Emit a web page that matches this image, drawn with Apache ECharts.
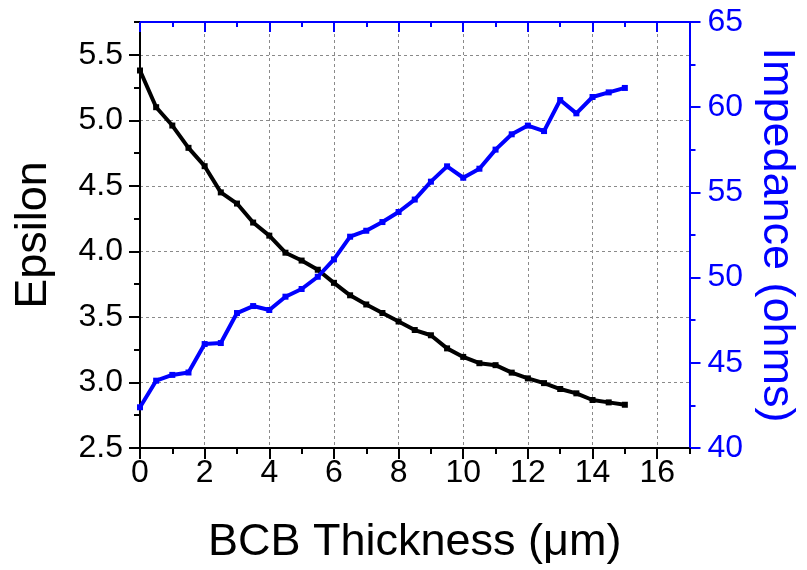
<!DOCTYPE html>
<html>
<head>
<meta charset="utf-8">
<script src="https://cdn.jsdelivr.net/npm/echarts@6/dist/echarts.min.js"></script>
<style>
  html, body { margin: 0; padding: 0; background: #fff; }
  #chart { width: 807px; height: 570px; }
</style>
</head>
<body>
<div id="chart"></div>
<script>
// BCB thickness sweep (µm)
const thickness = [0, 0.5, 1, 1.5, 2, 2.5, 3, 3.5, 4, 4.5, 5, 5.5, 6, 6.5, 7, 7.5,
  8, 8.5, 9, 9.5, 10, 10.5, 11, 11.5, 12, 12.5, 13, 13.5, 14, 14.5, 15];

// Effective permittivity
const epsilon = [5.38, 5.10, 4.96, 4.79, 4.65, 4.45, 4.365, 4.22, 4.12, 3.99, 3.93,
  3.86, 3.76, 3.665, 3.595, 3.53, 3.465, 3.40, 3.36, 3.26, 3.195, 3.147, 3.132,
  3.075, 3.031, 2.995, 2.95, 2.917, 2.866, 2.848, 2.83];

// Characteristic impedance (ohms)
const impedance = [42.39, 43.95, 44.29, 44.43, 46.10, 46.16, 47.92, 48.33, 48.10,
  48.88, 49.33, 50.05, 51.07, 52.40, 52.75, 53.26, 53.85, 54.58, 55.63, 56.53,
  55.86, 56.39, 57.51, 58.41, 58.92, 58.60, 60.42, 59.64, 60.60, 60.87, 61.13];

// Axis ranges and tick steps
const xRange = [0, 17], xStep = 2, xMinorStep = 1;
const epsRange = [2.5, 5.75], epsStep = 0.5, epsMinorStep = 0.25;
const impRange = [40, 65], impStep = 5;

const FONT = 'Liberation Sans';
const BLUE = '#0000ff';
const TICK_FONT = 32;
const TITLE_FONT = 45;
const gridLine = { show: true, lineStyle: { color: '#8a8a8a', width: 1, type: [3, 3] } };

const chart = echarts.init(document.getElementById('chart'), null, { renderer: 'canvas' });

const hidden = { show: false };

chart.setOption({
  animation: false,
  backgroundColor: '#fff',
  grid: { left: 140, right: 113, top: 22, bottom: 122, containLabel: false },
  xAxis: [
    {
      type: 'value', position: 'bottom', min: xRange[0], max: xRange[1], interval: xStep,
      name: 'BCB Thickness (μm)', nameLocation: 'middle', nameGap: 72,
      nameTextStyle: { fontFamily: FONT, fontSize: TITLE_FONT, color: '#000' },
      axisLine: { show: true, onZero: false, lineStyle: { color: '#000', width: 2 } },
      axisTick: { show: true, inside: false, length: 11, lineStyle: { color: '#000', width: 2 } },
      axisLabel: { show: true, margin: 9, fontFamily: FONT, fontSize: TICK_FONT, color: '#000', showMaxLabel: false },
      splitLine: gridLine
    },
    {
      type: 'value', position: 'bottom', min: xRange[0], max: xRange[1], interval: xMinorStep,
      axisLine: { show: false, onZero: false },
      axisTick: { show: true, inside: false, length: 6, lineStyle: { color: '#000', width: 2 } },
      axisLabel: hidden, splitLine: hidden
    },
    {
      type: 'value', position: 'top', min: xRange[0], max: xRange[1], interval: xStep,
      axisLine: { show: true, onZero: false, lineStyle: { color: BLUE, width: 2 } },
      axisTick: { show: true, inside: true, length: 10, lineStyle: { color: BLUE, width: 2 } },
      axisLabel: hidden, splitLine: hidden
    },
    {
      type: 'value', position: 'top', min: xRange[0], max: xRange[1], interval: xMinorStep,
      axisLine: { show: false, onZero: false },
      axisTick: { show: true, inside: true, length: 5, lineStyle: { color: BLUE, width: 2 } },
      axisLabel: hidden, splitLine: hidden
    }
  ],
  yAxis: [
    {
      type: 'value', position: 'left', min: epsRange[0], max: epsRange[1], interval: epsStep,
      name: 'Epsilon', nameLocation: 'middle', nameGap: 84, nameRotate: 90,
      nameTextStyle: { fontFamily: FONT, fontSize: TITLE_FONT, color: '#000' },
      axisLine: { show: true, onZero: false, lineStyle: { color: '#000', width: 2 } },
      axisTick: { show: true, inside: false, length: 11, lineStyle: { color: '#000', width: 2 } },
      axisLabel: {
        show: true, margin: 17, fontFamily: FONT, fontSize: TICK_FONT, color: '#000', showMaxLabel: false,
        formatter: v => v.toFixed(1)
      },
      splitLine: gridLine
    },
    {
      type: 'value', position: 'right', min: impRange[0], max: impRange[1], interval: impStep,
      name: 'Impedance (ohms)', nameLocation: 'middle', nameGap: 62, nameRotate: -90,
      nameTextStyle: { fontFamily: FONT, fontSize: TITLE_FONT, color: BLUE },
      axisLine: { show: true, onZero: false, lineStyle: { color: BLUE, width: 2 } },
      axisTick: { show: true, inside: false, length: 11, lineStyle: { color: BLUE, width: 2 } },
      minorTick: { show: true, splitNumber: 2, length: 6, lineStyle: { color: BLUE, width: 2 } },
      axisLabel: { show: true, margin: 18, fontFamily: FONT, fontSize: TICK_FONT, color: BLUE },
      splitLine: hidden
    },
    {
      type: 'value', position: 'left', min: epsRange[0], max: epsRange[1], interval: epsMinorStep,
      axisLine: { show: false, onZero: false },
      axisTick: { show: true, inside: false, length: 6, lineStyle: { color: '#000', width: 2 } },
      axisLabel: hidden, splitLine: hidden
    }
  ],
  series: [
    {
      name: 'Epsilon', type: 'line', xAxisIndex: 0, yAxisIndex: 0,
      data: thickness.map((t, i) => [t, epsilon[i]]),
      symbol: 'rect', symbolSize: 6, showAllSymbol: true,
      lineStyle: { color: '#000', width: 4 },
      itemStyle: { color: '#000' }, z: 3
    },
    {
      name: 'Impedance', type: 'line', xAxisIndex: 0, yAxisIndex: 1,
      data: thickness.map((t, i) => [t, impedance[i]]),
      symbol: 'rect', symbolSize: 6, showAllSymbol: true,
      lineStyle: { color: BLUE, width: 4 },
      itemStyle: { color: BLUE }, z: 4
    }
  ]
});
</script>
</body>
</html>
